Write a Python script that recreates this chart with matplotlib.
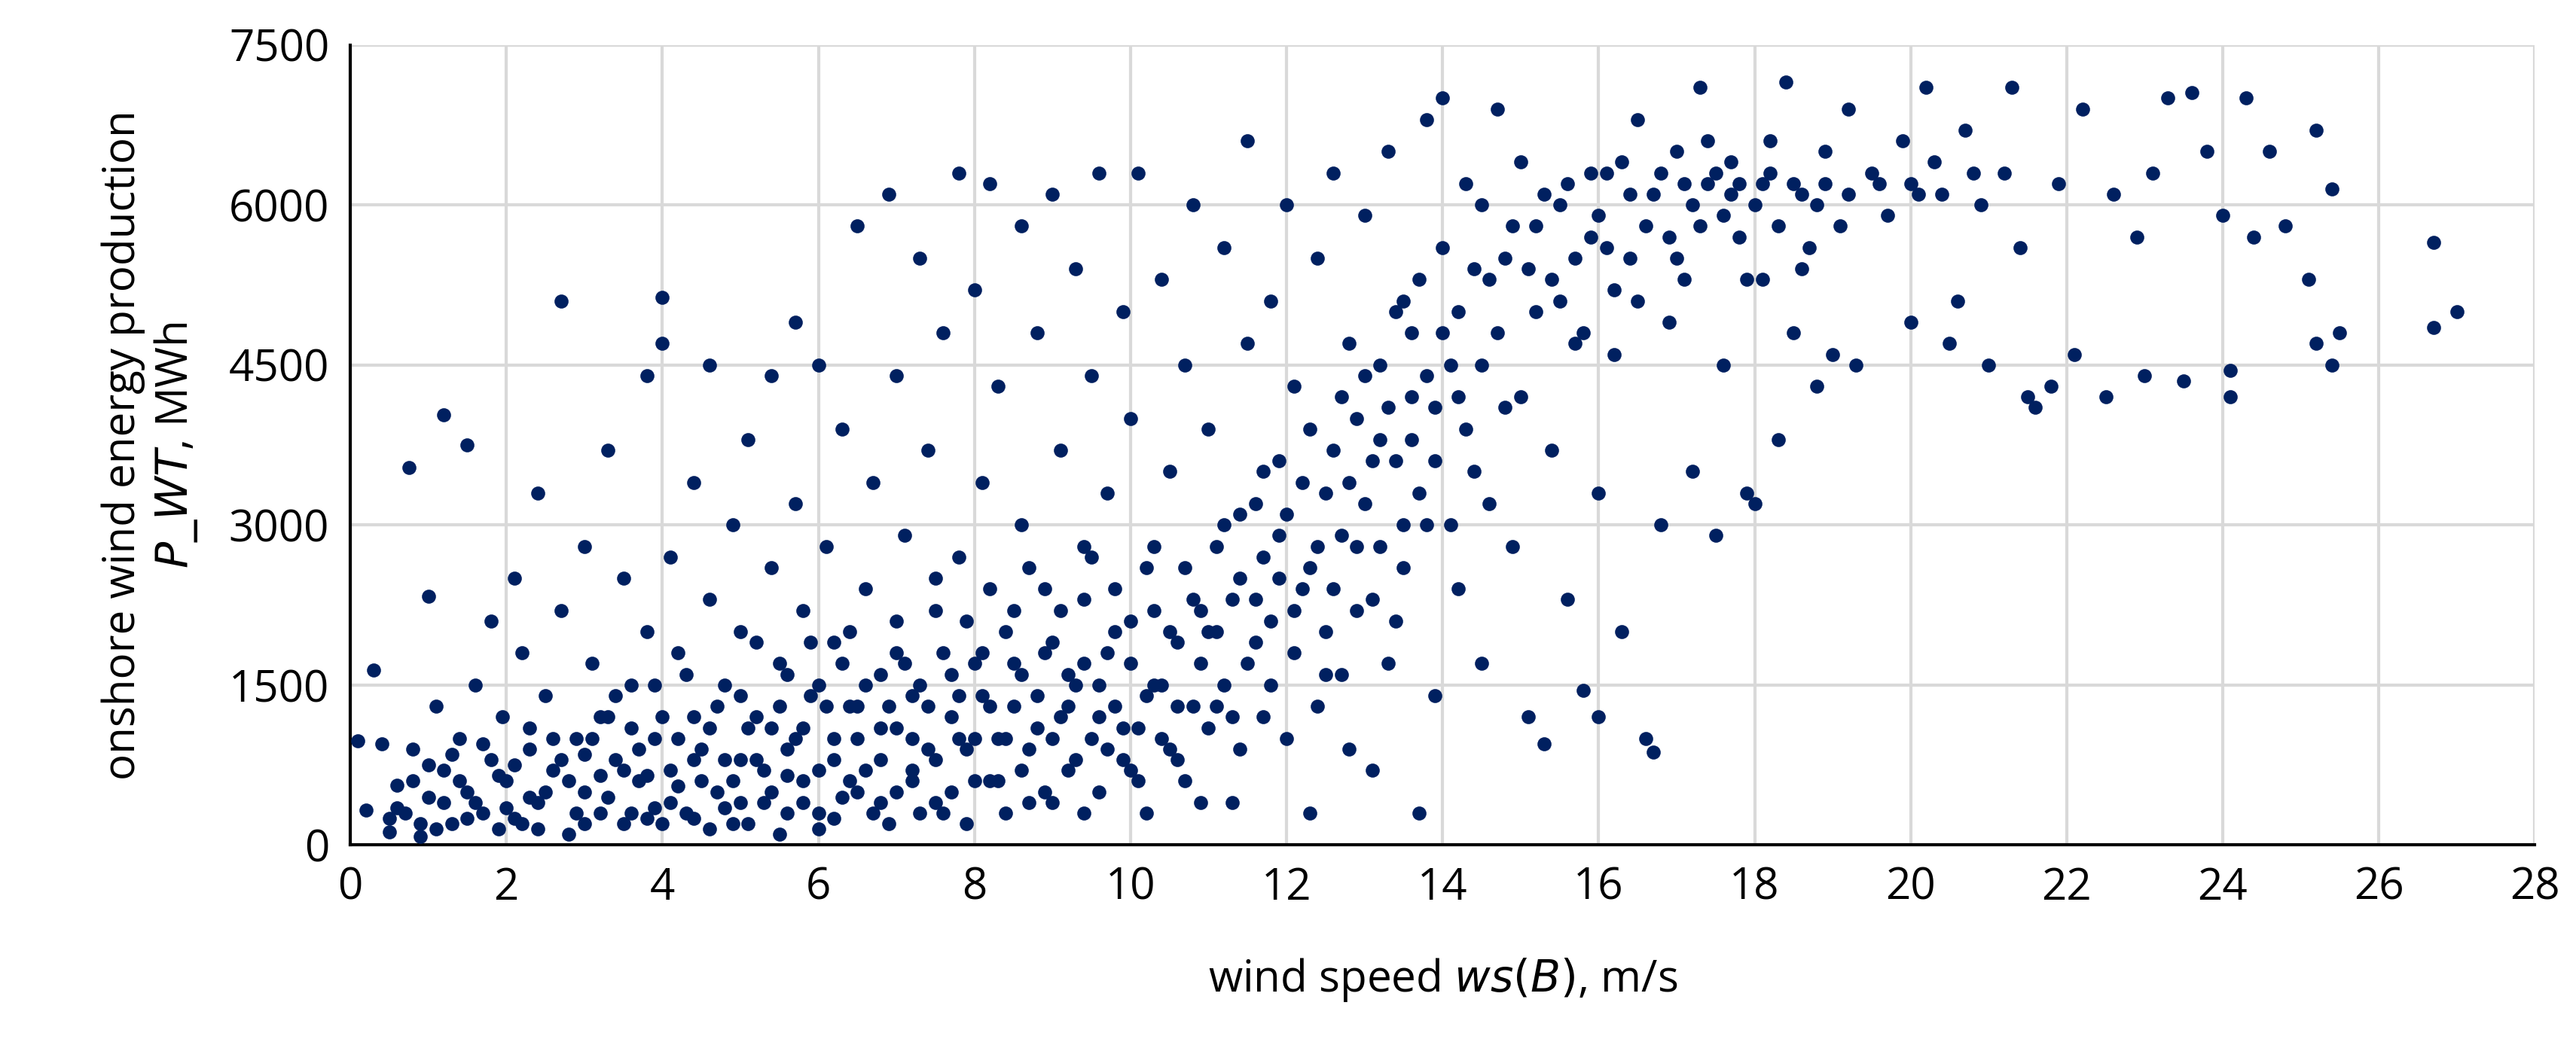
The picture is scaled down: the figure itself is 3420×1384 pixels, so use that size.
import matplotlib
matplotlib.use("Agg")
import matplotlib.pyplot as plt
import numpy as np

plt.rcParams['font.family'] = ['Open Sans', 'DejaVu Sans']

# (wind speed m/s, production MWh)
spread_points = [
(0.1,980),(0.2,330),(0.3,1640),(0.4,950),(0.5,120),(0.6,560),(0.7,300),(0.75,3540),(0.8,900),(0.9,80),(1.0,2330),(1.0,450),(1.1,1300),(1.2,4030),(1.2,700),(1.3,200),(1.4,1000),(1.5,3750),(1.5,500),(1.6,1500),(1.7,300),(1.8,2100),(1.8,800),(1.9,150),(1.95,1200),
(2.0,600),(2.1,2500),(2.1,250),(2.2,1800),(2.3,900),(2.4,3300),(2.4,400),(2.5,1400),(2.6,700),(2.7,5100),(2.7,2200),(2.8,100),(2.9,1000),(3.0,2800),(3.0,500),(3.1,1700),(3.2,300),(3.3,3700),(3.3,1200),(3.4,800),(3.5,2500),(3.5,200),(3.6,1500),(3.7,600),(3.8,4400),(3.8,2000),(3.9,1000),(3.9,350),
(4.0,4700),(4.0,5130),(4.1,2700),(4.1,700),(4.2,1800),(4.3,300),(4.4,3400),(4.4,1200),(4.5,900),(4.6,4500),(4.6,2300),(4.7,500),(4.8,1500),(4.9,3000),(4.9,200),(5.0,2000),(5.0,800),(5.1,3800),(5.2,1200),(5.3,400),(5.4,4400),(5.4,2600),(5.5,1700),(5.5,100),(5.6,900),(5.7,4900),(5.7,3200),(5.8,2200),(5.8,600),(5.9,1400),(6.0,4500),(6.0,300),
(6.1,2800),(6.2,1900),(6.2,800),(6.3,3900),(6.4,1300),(6.5,5800),(6.5,500),(6.6,2400),(6.7,3400),(6.8,1100),(6.9,6100),(6.9,200),(7.0,4400),(7.0,1800),(7.1,2900),(7.2,700),(7.3,5500),(7.3,1500),(7.4,3700),(7.5,2200),(7.5,400),(7.6,4800),(7.7,1200),(7.8,6300),(7.8,2700),(7.9,900),(8.0,5200),(8.0,1700),
(8.1,3400),(8.2,6200),(8.2,600),(8.3,4300),(8.4,2000),(8.5,1300),(8.6,5800),(8.6,3000),(8.7,400),(8.8,4800),(8.9,2400),(9.0,6100),(9.0,1000),(9.1,3700),(9.2,1600),(9.3,5400),(9.4,2800),(9.4,300),(9.5,4400),(9.6,6300),(9.6,1200),(9.7,3300),(9.8,2000),(9.9,5000),(10.0,700),(10.0,4000),
(10.1,6300),(10.2,2600),(10.3,1500),(10.4,5300),(10.5,3500),(10.6,800),(10.7,4500),(10.8,6000),(10.9,2200),(11.0,3900),(11.1,1300),(11.2,5600),(11.3,400),(11.4,3100),(11.5,6600),(11.5,4700),(11.6,1900),(11.7,2700),(11.8,5100),(11.9,3600),(12.0,1000),(12.0,6000),
(12.1,4300),(12.2,2400),(12.3,300),(12.4,5500),(12.5,3300),(12.6,6300),(12.7,1600),(12.8,4700),(12.9,2800),(13.0,5900),(13.1,700),(13.2,3800),(13.3,6500),(13.4,2100),(13.5,5100),(13.6,4200),(13.7,300),(13.8,6800),(13.8,3000),(13.9,1400),(14.0,5600),(14.0,7000),
(14.1,4500),(14.2,2400),(14.3,6200),(14.4,3500),(14.5,1700),(14.6,5300),(14.7,6900),(14.8,4100),(14.9,2800),(15.0,6400),(15.1,1200),(15.2,5000),(15.3,950),(15.4,3700),(15.5,6000),(15.6,2300),(15.7,4700),(15.8,1450),(15.9,5700),(16.0,1200),(16.0,3300),
(16.1,6300),(16.2,4600),(16.3,2000),(16.4,5500),(16.5,6800),(16.6,1000),(16.7,870),(16.8,3000),(16.9,4900),(17.0,6500),(17.1,5300),(17.2,3500),(17.3,7100),(17.4,6200),(17.5,2900),(17.6,4500),(17.7,6400),(17.8,5700),(17.9,3300),(18.0,6000),(18.0,3200),
(18.1,5300),(18.2,6600),(18.3,3800),(18.4,7150),(18.5,4800),(18.6,6100),(18.7,5600),(18.8,4300),(18.9,6500),(19.0,4600),(19.1,5800),(19.2,6900),(19.3,4500),(19.5,6300),(19.7,5900),(19.9,6600),(20.0,4900),(20.1,6100),(20.2,7100),(20.3,6400),(20.5,4700),(20.6,5100),(20.7,6700),(20.9,6000),(21.0,4500),(21.2,6300),(21.3,7100),(21.4,5600),(21.5,4200),(21.6,4100),(21.8,4300),(21.9,6200),(22.1,4600),(22.2,6900),(22.5,4200),(22.6,6100),(22.9,5700),(23.0,4400),(23.1,6300),(23.3,7000),(23.5,4350),(23.6,7050),(23.8,6500),(24.0,5900),(24.1,4200),(24.1,4450),(24.3,7000),(24.4,5700),(24.6,6500),(24.8,5800),(25.1,5300),(25.2,6700),(25.2,4700),(25.4,4500),(25.4,6150),(25.5,4800),(26.7,4850),(26.7,5650),(27.0,5000),
]
core_points = [
(0.5,250),(0.8,600),(1.1,150),(1.3,850),(1.6,400),(1.9,650),(2.2,200),(2.3,1100),(2.5,500),(2.7,800),(2.9,300),(3.1,1000),(3.2,650),(3.4,1400),(3.6,300),(3.7,900),(3.9,1500),(4.1,400),(4.2,1000),(4.3,1600),(4.5,600),(4.6,150),(4.7,1300),(4.8,800),(5.0,400),(5.1,1100),(5.2,1900),(5.3,700),(5.5,1300),(5.6,300),(5.7,1000),(5.9,1900),(6.0,700),(6.1,1300),(6.2,250),(6.3,1700),(6.4,600),(6.5,1000),(6.6,1500),(6.7,300),(6.8,800),(6.9,1300),(7.0,500),(7.1,1700),(7.2,1000),(7.3,300),(7.4,1300),(7.5,800),(7.6,1800),(7.7,500),(7.8,1400),(7.9,200),(8.0,1000),(8.1,1800),(8.2,1300),(8.3,600),(8.4,1000),(8.5,2200),(8.6,1600),(8.7,900),(8.8,1400),(8.9,500),(9.0,1900),(9.1,1200),(9.2,700),(9.3,1500),(9.4,2300),(9.5,1000),(9.6,500),(9.7,1800),(9.8,1300),(9.9,800),(10.0,1700),(10.1,1100),(10.2,300),(10.3,2200),(10.4,1500),(10.5,900),(10.6,1900),(10.7,2600),(10.8,1300),(10.9,400),(11.0,2000),(11.1,2800),(11.2,1500),(11.3,2300),(11.4,900),(11.6,3200),(11.7,1200),(11.8,2100),(11.9,2900),(12.1,1800),(12.2,3400),(12.3,2600),(12.4,1300),(12.5,2000),(12.6,3700),(12.7,2900),(12.8,900),(12.9,4000),(13.0,3200),(13.1,2300),(13.2,4500),(13.3,1700),(13.4,3600),(13.5,2600),(13.6,4800),(13.7,3300),(13.9,4100),(14.1,3000),(14.2,5000),(14.3,3900),(14.5,4500),(14.6,3200),(14.8,5500),(15.0,4200),(15.2,5800),(15.4,5300),(15.6,6200),(15.8,4800),(16.0,5900),(16.2,5200),(16.4,6100),(16.6,5800),(16.8,6300),(17.0,5500),(17.2,6000),(17.4,6600),(17.6,5900),(17.8,6200),(18.2,6300),(18.5,6200),(18.8,6000),
]
dense_points = [
(0.6,350),(0.9,200),(1.0,750),(1.2,400),(1.4,600),(1.5,250),(1.7,950),(2.0,350),(2.1,750),(2.3,450),(2.4,150),(2.6,1000),(2.8,600),(3.0,200),(3.0,850),(3.2,1200),(3.3,450),(3.5,700),(3.6,1100),(3.8,250),(3.8,650),(4.0,1200),(4.0,200),(4.2,550),(4.4,800),(4.4,250),(4.6,1100),(4.8,350),(4.9,600),(5.0,1400),(5.1,200),(5.2,800),(5.4,500),(5.4,1100),(5.6,650),(5.6,1600),(5.8,400),(5.8,1100),(6.0,1500),(6.0,150),(6.2,1000),(6.3,450),(6.4,2000),(6.5,1300),(6.6,700),(6.8,1600),(6.8,400),(7.0,1100),(7.0,2100),(7.2,600),(7.2,1400),(7.4,900),(7.5,2500),(7.6,300),(7.7,1600),(7.8,1000),(7.9,2100),(8.0,600),(8.1,1400),(8.2,2400),(8.3,1000),(8.4,300),(8.5,1700),(8.6,700),(8.7,2600),(8.8,1100),(8.9,1800),(9.0,400),(9.1,2200),(9.2,1300),(9.3,800),(9.4,1700),(9.5,2700),(9.6,1500),(9.7,900),(9.8,2400),(9.9,1100),(10.0,2100),(10.1,600),(10.2,1400),(10.3,2800),(10.4,1000),(10.5,2000),(10.6,1300),(10.7,600),(10.8,2300),(10.9,1700),(11.0,1100),(11.1,2000),(11.2,3000),(11.3,1200),(11.4,2500),(11.5,1700),(11.6,2300),(11.7,3500),(11.8,1500),(11.9,2500),(12.0,3100),(12.1,2200),(12.3,3900),(12.4,2800),(12.5,1600),(12.6,2400),(12.7,4200),(12.8,3400),(12.9,2200),(13.0,4400),(13.1,3600),(13.2,2800),(13.3,4100),(13.4,5000),(13.5,3000),(13.6,3800),(13.7,5300),(13.8,4400),(13.9,3600),(14.0,4800),(14.2,4200),(14.4,5400),(14.5,6000),(14.7,4800),(14.9,5800),(15.1,5400),(15.3,6100),(15.5,5100),(15.7,5500),(15.9,6300),(16.1,5600),(16.3,6400),(16.5,5100),(16.7,6100),(16.9,5700),(17.1,6200),(17.3,5800),(17.5,6300),(17.7,6100),(17.9,5300),(18.1,6200),(18.3,5800),(18.6,5400),(18.9,6200),(19.2,6100),(19.6,6200),(20.0,6200),(20.4,6100),(20.8,6300),
]
x_ticks = list(range(0, 29, 2))
y_ticks = [0, 1500, 3000, 4500, 6000, 7500]

pts = np.array(spread_points + core_points + dense_points)

fig = plt.figure(figsize=(17.1, 6.92), dpi=200)
ax = fig.add_axes([0.136, 0.189, 0.848, 0.768])
ax.scatter(pts[:, 0], pts[:, 1], s=45, color='#002060', linewidths=0, zorder=3, clip_on=False)
ax.set_xlim(0, 28)
ax.set_ylim(0, 7500)
ax.set_xticks(x_ticks)
ax.set_yticks(y_ticks)
ax.grid(True, color='#d9d9d9', linewidth=1.5)
for s in ['top', 'right']:
    ax.spines[s].set_visible(False)
ax.spines['left'].set_linewidth(1.5)
ax.spines['bottom'].set_linewidth(1.5)
ax.tick_params(labelsize=21, length=0, pad=10)
ax.set_xlabel('wind speed $\\it{ws(B)}$, m/s', fontsize=21, labelpad=22)
ax.set_ylabel('onshore wind energy production\n$\\it{P\\_WT}$, MWh', fontsize=21, labelpad=14)
fig.savefig('out.png', dpi=200)
